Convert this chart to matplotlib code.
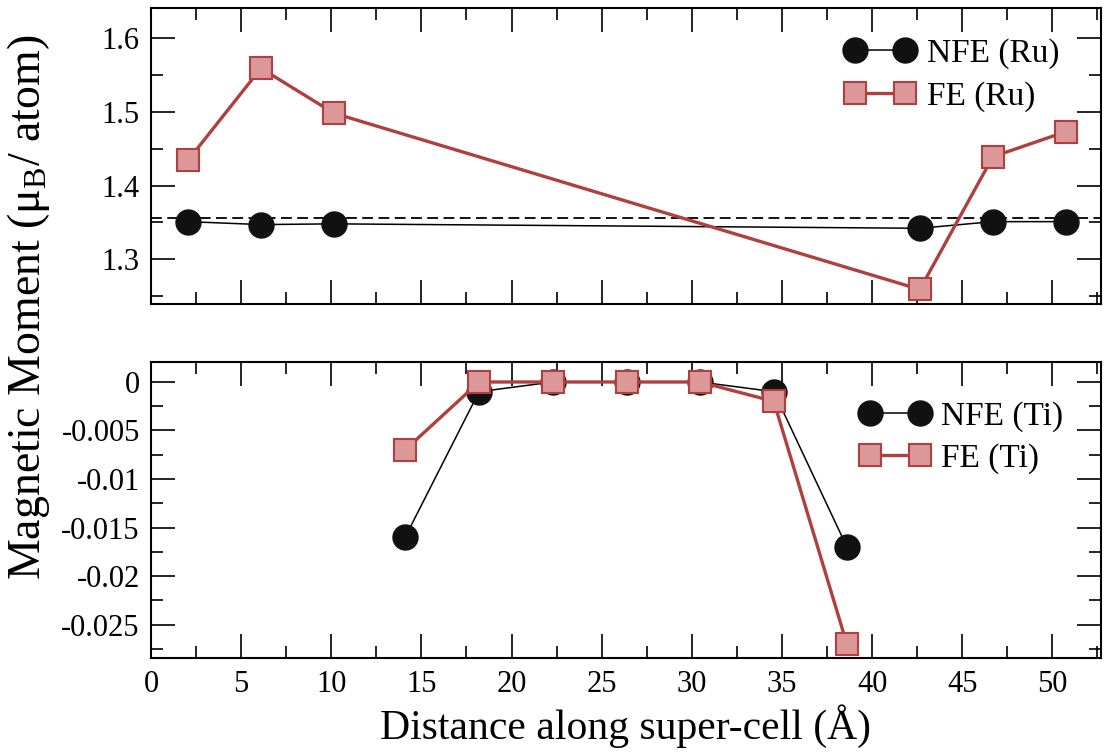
import matplotlib
matplotlib.use("Agg")
import matplotlib.pyplot as plt

plt.rcParams['font.family'] = ['Liberation Serif', 'DejaVu Serif']
plt.rcParams['mathtext.fontset'] = 'custom'
plt.rcParams['mathtext.rm'] = 'Liberation Serif'
plt.rcParams['mathtext.it'] = 'Liberation Serif:italic'

# Ru sites (top panel)
x_ru = [2.05, 6.1, 10.15, 42.65, 46.7, 50.75]
nfe_ru = [1.351, 1.347, 1.348, 1.342, 1.351, 1.351]
fe_ru = [1.434, 1.559, 1.498, 1.259, 1.439, 1.473]
bulk_ru = 1.356

# Ti sites (bottom panel)
x_ti = [14.1, 18.2, 22.3, 26.4, 30.45, 34.55, 38.6]
nfe_ti = [-0.016, -0.001, 0.0, 0.0, 0.0, -0.001, -0.017]
fe_ti = [-0.007, 0.0, 0.0, 0.0, 0.0, -0.002, -0.027]

x_ticks = [0, 5, 10, 15, 20, 25, 30, 35, 40, 45, 50]
ru_ticks = [1.3, 1.4, 1.5, 1.6]
ru_labels = ['1.3', '1.4', '1.5', '1.6']
ti_ticks = [0, -0.005, -0.01, -0.015, -0.02, -0.025]
ti_labels = ['0', '-0.005', '-0.01', '-0.015', '-0.02', '-0.025']

red = '#b0403f'
fill = '#dc9898'

fig = plt.figure(figsize=(11.06, 7.54), dpi=100)
ax1 = fig.add_axes([0.1365, 0.5968, 0.859, 0.3926])
ax2 = fig.add_axes([0.1365, 0.1267, 0.859, 0.3932])

nfe_style = dict(color='black', lw=1.1, marker='o', ms=18, mfc='#111111', mec='#111111')
fe_style = dict(color=red, lw=2.4, marker='s', ms=16, mfc=fill, mec=red, mew=1.5)

ax1.axhline(bulk_ru, color='black', lw=1.3, ls=(0, (6, 3)), zorder=1)
ax1.plot(x_ru, nfe_ru, label='NFE (Ru)', zorder=3, **nfe_style)
ax1.plot(x_ru, fe_ru, label='FE (Ru)', zorder=4, **fe_style)

ax2.plot(x_ti, nfe_ti, label='NFE (Ti)', zorder=3, **nfe_style)
ax2.plot(x_ti, fe_ti, label='FE (Ti)', zorder=4, **fe_style)

ax1.set_yticks(ru_ticks)
ax1.set_yticklabels(ru_labels)
ax2.set_yticks(ti_ticks)
ax2.set_yticklabels(ti_labels)

for ax in (ax1, ax2):
    ax.set_xlim(0, 52.7)
    ax.set_xticks(x_ticks)
    ax.set_xticks([v + 2.5 for v in x_ticks], minor=True)
    yt = ax.get_yticks()
    step = yt[1] - yt[0]
    ax.set_yticks([v + step / 2 for v in yt] + [yt[0] - step / 2], minor=True)
    ax.tick_params(which='both', direction='in', top=True, right=True,
                   labelsize=22, width=1.2, pad=8)
    ax.tick_params(which='major', length=17)
    ax.tick_params(which='minor', length=8.5)
    for s in ax.spines.values():
        s.set_linewidth(1.5)

ax1.set_ylim(1.2393, 1.6407)
ax2.set_ylim(-0.0285, 0.00206)
ax1.tick_params(labelbottom=False)

leg_kw = dict(frameon=False, numpoints=2, fontsize=24, handlelength=2.1,
              handletextpad=0.35, labelspacing=0.35, borderaxespad=0,
              borderpad=0, loc='upper left')
ax1.legend(bbox_to_anchor=(0.7305, 0.897), **leg_kw)
ax2.legend(bbox_to_anchor=(0.746, 0.868), **leg_kw)

ax2.set_xlabel('Distance along super-cell (Å)', fontsize=30, labelpad=4)
fig.text(0.026, 0.593, 'Magnetic Moment (μ$_\\mathrm{B}$/ atom)', fontsize=33,
         rotation=90, ha='center', va='center')

fig.savefig('out.png', dpi=100)
